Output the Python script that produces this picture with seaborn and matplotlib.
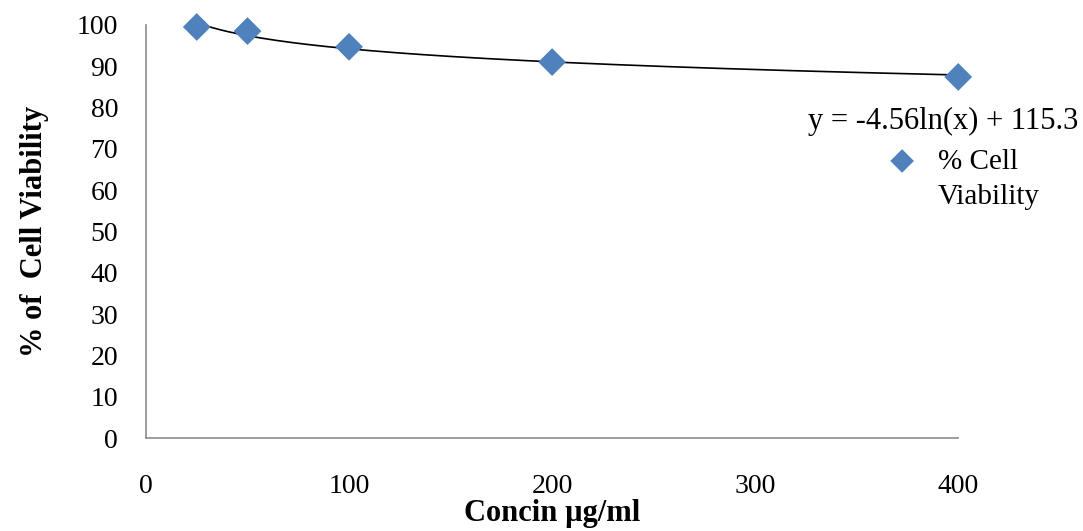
import numpy as np
import pandas as pd
import seaborn as sns
import matplotlib.pyplot as plt

conc = [25, 50, 100, 200, 400]
viability = [99.5, 98.5, 94.7, 91.0, 87.4]
x_ticks = [0, 100, 200, 300, 400]
y_ticks = list(range(0, 101, 10))

df = pd.DataFrame({"conc": conc, "viability": viability})

sns.set_style("white")
plt.rcParams["font.family"] = ["Liberation Serif", "DejaVu Serif"]
plt.rcParams.update({"text.color": "black", "axes.labelcolor": "black",
                     "xtick.color": "black", "ytick.color": "black"})

fig = plt.figure(figsize=(10.83, 5.31), dpi=100)
ax = fig.add_axes([0.1348, 0.1751, 0.75, 0.778])

# log trendline fitted from the data
slope, icpt = np.polyfit(np.log(df["conc"]), df["viability"], 1)
xs = np.linspace(df["conc"].min(), df["conc"].max(), 200)
ax.plot(xs, slope * np.log(xs) + icpt, color="black", lw=1.2, zorder=2, clip_on=False)

sns.scatterplot(data=df, x="conc", y="viability", marker="D", s=200,
                color="#4f81bd", edgecolor="none", ax=ax, zorder=3,
                legend=False, clip_on=False)

ax.set_xlim(0, 400)
ax.set_ylim(0, 100)
ax.set_xticks(x_ticks)
ax.set_yticks(y_ticks)
ax.tick_params(axis="both", labelsize=20, length=0)
ax.tick_params(axis="x", pad=26)
ax.tick_params(axis="y", pad=20)
for s in ["top", "right"]:
    ax.spines[s].set_visible(False)
for s in ["left", "bottom"]:
    ax.spines[s].set_color("#8c8c8c")
    ax.spines[s].set_linewidth(1.2)

ax.set_xlabel("Concin µg/ml", fontsize=22, fontweight="bold", labelpad=0)
ax.set_ylabel("% of  Cell Viability", fontsize=22, fontweight="bold", labelpad=20)

fig.text(0.996, 0.772, "y = -4.56ln(x) + 115.3", fontsize=22, ha="right", va="center")
leg = fig.legend(handles=ax.collections, labels=["% Cell"],
                 loc="center left", bbox_to_anchor=(0.8195, 0.696), frameon=False,
                 fontsize=21, handletextpad=0.73, markerscale=0.85, handlelength=1.0,
                 borderpad=0, borderaxespad=0)
fig.text(0.866, 0.629, "Viability", fontsize=21, ha="left", va="center")

fig.savefig("out.png", dpi=100)
